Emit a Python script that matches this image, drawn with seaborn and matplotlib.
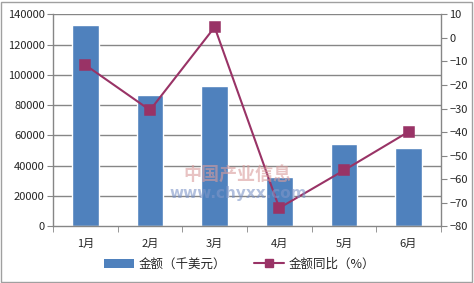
import matplotlib
matplotlib.use("Agg")
import matplotlib.pyplot as plt
import seaborn as sns
import pandas as pd
from matplotlib.patches import Rectangle
from matplotlib.lines import Line2D
from matplotlib.patches import Patch

sns.set_style("white")
plt.rcParams['font.family'] = ['Noto Sans CJK SC', 'DejaVu Sans']
plt.rcParams['axes.unicode_minus'] = True

months = ["1月", "2月", "3月", "4月", "5月", "6月"]
amount = [133000, 86900, 92700, 32500, 54600, 51400]
yoy = [-11.5, -30.7, 4.6, -72.3, -56.3, -39.9]
bar_label = "金额（千美元）"
line_label = "金额同比（%）"

df = pd.DataFrame({"month": months, "amount": amount, "yoy": yoy})

fig = plt.figure(figsize=(4.74, 2.83), dpi=100)
ax = fig.add_axes([0.112, 0.201, 0.818, 0.748])

bar_color = "#4F81BD"
line_color = "#993366"
grid_color = "#868686"

sns.barplot(data=df, x="month", y="amount", color=bar_color, width=0.41,
            saturation=1, ax=ax, zorder=2)
ax.set_ylim(0, 140000)
ax.set_xlim(-0.5, 5.5)
ax.set_yticks(range(0, 140001, 20000))
ax.set_yticklabels([str(v) for v in range(0, 140001, 20000)])
for y in range(20000, 140001, 20000):
    ax.axhline(y, color=grid_color, lw=1, zorder=1)
ax.set_xlabel("")
ax.set_ylabel("")

ax2 = ax.twinx()
sns.pointplot(data=df, x="month", y="yoy", color=line_color, markers="s",
              linestyles="-", ax=ax2, markersize=6.5, linewidth=1.5, zorder=5)
ax2.set_ylim(-80, 10)
ax2.set_yticks(range(-80, 11, 10))
ax2.set_yticklabels([f"−{abs(v)}" if v < 0 else str(v) for v in range(-80, 11, 10)])
ax2.set_xlim(-0.5, 5.5)
ax2.set_ylabel("")
ax2.set_xlabel("")

for a in (ax, ax2):
    a.spines["top"].set_visible(False)
    for s in ("left", "right", "bottom"):
        a.spines[s].set_color(grid_color)
        a.spines[s].set_linewidth(1)
ax.spines["right"].set_visible(False)
ax2.spines["left"].set_visible(False)
ax2.spines["bottom"].set_visible(False)

ax.tick_params(axis="y", length=4, color=grid_color, labelsize=8, pad=2, left=True)
ax2.tick_params(axis="y", length=4, color=grid_color, labelsize=8, pad=2, right=True)
ax.set_xticks([i - 0.5 for i in range(7)], minor=True)
ax.tick_params(axis="x", which="minor", length=4, color=grid_color, bottom=True)
ax.tick_params(axis="x", which="major", length=0, labelsize=8, pad=9)

# watermark
fig.text(0.501, 0.382, "中国产业信息", color="#D99C9C", alpha=0.6, fontsize=13,
         ha="center", va="center", fontweight="bold", zorder=0)
fig.text(0.502, 0.318, "www.chyxx.com", color="#7F96C8", alpha=0.6, fontsize=11,
         ha="center", va="center", fontweight="bold", zorder=0,
         family=["DejaVu Sans"])

handles = [Patch(facecolor=bar_color, edgecolor="none"),
           Line2D([0], [0], color=line_color, marker="s", markersize=6, lw=1.5)]
fig.legend(handles, [bar_label, line_label], loc="center",
           bbox_to_anchor=(0.505, 0.067), ncol=2, frameon=False, fontsize=9,
           handlelength=2.4, handleheight=0.7, columnspacing=2.2, handletextpad=0.4)

fig.patches.append(Rectangle((0.002, 0.004), 0.994, 0.99, transform=fig.transFigure,
                             fill=False, edgecolor="#A0A0A0", lw=1))

fig.savefig("out.png", dpi=100)
